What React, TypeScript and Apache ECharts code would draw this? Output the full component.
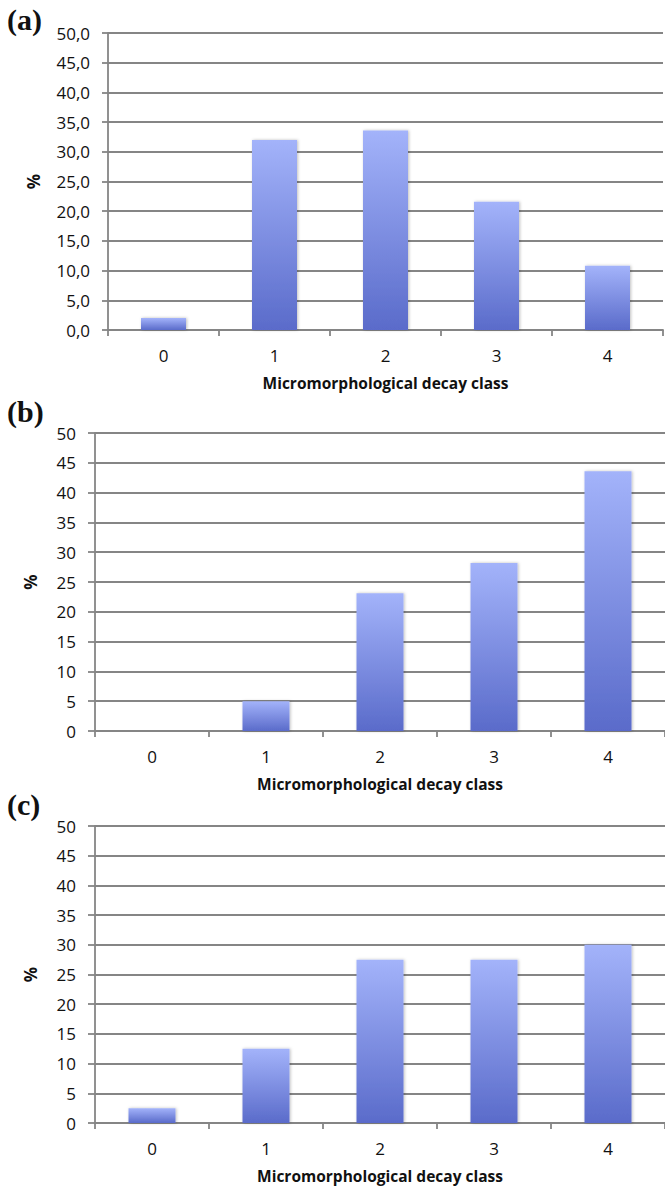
import React, { useEffect, useRef } from "react";
import * as echarts from "echarts";

const categories = ["0", "1", "2", "3", "4"];
const valuesA = [2.0, 32.0, 33.6, 21.6, 10.8];
const valuesB = [0, 5.0, 23.1, 28.2, 43.6];
const valuesC = [2.5, 12.5, 27.5, 27.5, 30.0];
const panelLabels = ["(a)", "(b)", "(c)"];
const xAxisTitle = "Micromorphological decay class";
const yAxisTitle = "%";

const FONT = "'Open Sans', 'Liberation Sans', sans-serif";
const GRID_COLOR = "#858585";

export default function App() {
  const ref = useRef<HTMLDivElement>(null);
  useEffect(() => {
    if (!ref.current) return;
    const chart = echarts.init(ref.current, undefined, { renderer: "svg" });
    const grids = [
      { left: 108, top: 33, width: 555, height: 297 },
      { left: 95, top: 433, width: 570, height: 298 },
      { left: 95, top: 826, width: 570, height: 297 },
    ];
    const dataSets = [valuesA, valuesB, valuesC];
    const barColor = new echarts.graphic.LinearGradient(0, 0, 0, 1, [
      { offset: 0, color: "#a3b3fa" },
      { offset: 1, color: "#5a6bca" },
    ]);
    const xAxes = grids.map((_, i) => ({
      type: "category",
      gridIndex: i,
      data: categories,
      boundaryGap: true,
      axisLine: { show: true, lineStyle: { color: GRID_COLOR, width: 1.8 } },
      axisTick: { show: true, length: 6, lineStyle: { color: GRID_COLOR, width: 1.8 } },
      axisLabel: { color: "#111", fontFamily: FONT, fontSize: 17, margin: 17 },
      name: xAxisTitle,
      nameLocation: "middle",
      nameGap: 45,
      nameTextStyle: { color: "#111", fontFamily: FONT, fontSize: 15.5, fontWeight: "bold" },
    }));
    const yAxes = grids.map((_, i) => ({
      type: "value",
      gridIndex: i,
      min: 0,
      max: 50,
      interval: 5,
      axisLine: { show: true, lineStyle: { color: GRID_COLOR, width: 1.8 } },
      axisTick: { show: true, length: i === 0 ? 6 : 7, lineStyle: { color: GRID_COLOR, width: 1.8 } },
      splitLine: { show: true, lineStyle: { color: GRID_COLOR, width: 1.8 } },
      axisLabel: {
        color: "#111",
        fontFamily: FONT,
        fontSize: 17,
        margin: i === 0 ? 18 : 19,
        formatter: (v: number) => (i === 0 ? v.toFixed(1).replace(".", ",") : String(v)),
      },
      name: yAxisTitle,
      nameLocation: "middle",
      nameRotate: 90,
      nameGap: i === 0 ? 66 : 56,
      nameTextStyle: { color: "#111", fontFamily: FONT, fontSize: 17, fontWeight: "bold" },
    }));
    const series = dataSets.map((d, i) => ({
      type: "bar",
      xAxisIndex: i,
      yAxisIndex: i,
      data: d,
      barWidth: i === 0 ? 45 : 47,
      itemStyle: {
        color: barColor,
        shadowColor: "rgba(0,0,0,0.25)",
        shadowBlur: 3,
        shadowOffsetX: 1,
        shadowOffsetY: 0,
      },
    }));
    const labelY = [20, 412, 805];
    chart.setOption({
      animation: false,
      backgroundColor: "#ffffff",
      grid: grids,
      xAxis: xAxes,
      yAxis: yAxes,
      series,
      graphic: panelLabels.map((t, i) => ({
        type: "text",
        left: 7,
        top: labelY[i] - 16,
        style: {
          text: t,
          fill: "#111",
          font: "bold 30px 'Liberation Serif', 'DejaVu Serif', serif",
        },
      })),
    });
    return () => chart.dispose();
  }, []);
  return (
    <div
      ref={ref}
      style={{ position: "absolute", left: 0, top: 0, width: 665, height: 1192, background: "#fff" }}
    />
  );
}
